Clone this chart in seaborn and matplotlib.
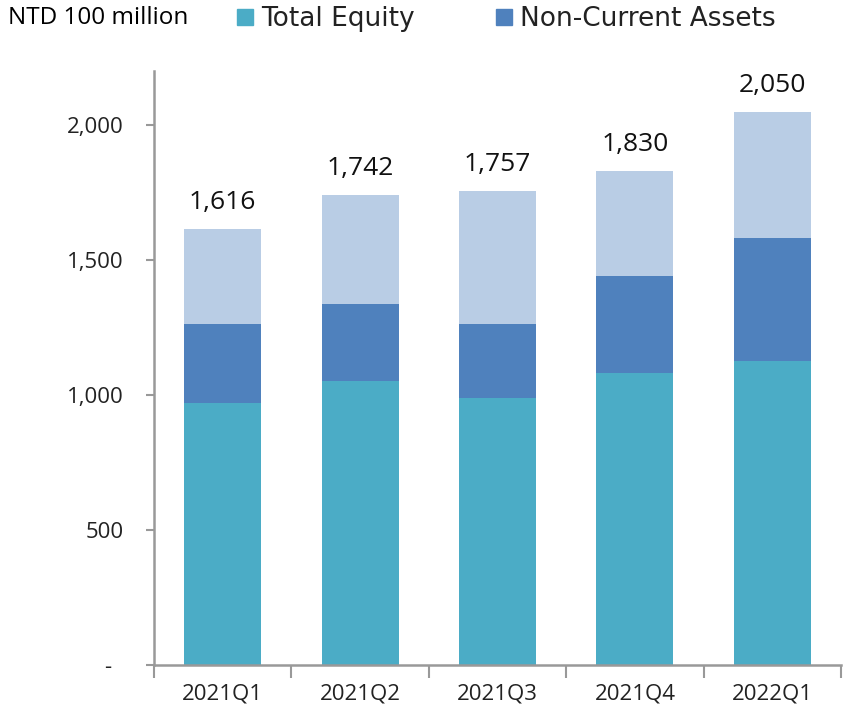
import matplotlib
matplotlib.use("Agg")
import matplotlib.pyplot as plt
from matplotlib.patches import Patch
from matplotlib.ticker import FixedLocator, FuncFormatter
import seaborn as sns
import pandas as pd

quarters = ["2021Q1", "2021Q2", "2021Q3", "2021Q4", "2022Q1"]
total_assets = [1616, 1742, 1757, 1830, 2050]
non_current_assets = [1262, 1337, 1262, 1441, 1581]
total_equity = [970, 1052, 989, 1081, 1126]
unit_label = "NTD 100 million"

c_total = "#B9CDE5"
c_nca = "#4F81BD"
c_eq = "#4BACC6"

sns.set_theme(style="white")
plt.rcParams["font.family"] = ["Open Sans", "DejaVu Sans"]

df = pd.DataFrame({"quarter": quarters, "total": total_assets,
                   "nca": non_current_assets, "equity": total_equity})

fig = plt.figure(figsize=(8.43, 7.15), dpi=100)
ax = fig.add_axes([0.1827, 0.0699, 0.815, 0.8308])

for col, colr in [("total", c_total), ("nca", c_nca), ("equity", c_eq)]:
    sns.barplot(data=df, x="quarter", y=col, color=colr, width=0.56,
                saturation=1, ax=ax, errorbar=None, order=quarters, linewidth=0)

ax.set_ylim(0, 2200)
ax.set_xlim(-0.5, len(quarters) - 0.5)
ax.set_xlabel("")
ax.set_ylabel("")

ax.yaxis.set_major_locator(FixedLocator([0, 500, 1000, 1500, 2000]))
ax.yaxis.set_major_formatter(FuncFormatter(lambda v, p: "-  " if v == 0 else f"{int(v):,}"))

ax.set_xticks(range(len(quarters)))
ax.set_xticklabels(quarters)
ax.set_xticks([i - 0.5 for i in range(len(quarters) + 1)], minor=True)
ax.tick_params(axis="x", which="major", length=0, pad=13, labelsize=16, labelcolor="#222222")
ax.tick_params(axis="x", which="minor", length=9, width=1.5, color="#999999", direction="out", bottom=True)
ax.tick_params(axis="y", which="major", length=6, width=1.5, color="#999999", direction="out",
               left=True, pad=16, labelsize=16, labelcolor="#222222")

for s in ["top", "right"]:
    ax.spines[s].set_visible(False)
for s in ["left", "bottom"]:
    ax.spines[s].set_color("#999999")
    ax.spines[s].set_linewidth(1.8)

for i, v in enumerate(total_assets):
    ax.annotate(f"{v:,}", (i, v), xytext=(0, 14), textcoords="offset points",
                ha="center", va="baseline", fontsize=19, color="#111111")

fig.text(0.010, 0.975, unit_label, fontsize=17.5, va="center", ha="left", color="#000000")
handles = [Patch(color=c_eq, label="Total Equity"), Patch(color=c_nca, label="Non-Current Assets")]
leg = fig.legend(handles=handles, loc="center left", bbox_to_anchor=(0.281, 0.973), ncol=2,
                 frameon=False, handlelength=0.6, handleheight=0.6,
                 handletextpad=0.3, columnspacing=3.1, borderaxespad=0, borderpad=0,
                 prop={"family": ["DejaVu Sans"], "size": 19})
for t in leg.get_texts():
    t.set_color("#222222")

fig.savefig("out.png", dpi=100)
